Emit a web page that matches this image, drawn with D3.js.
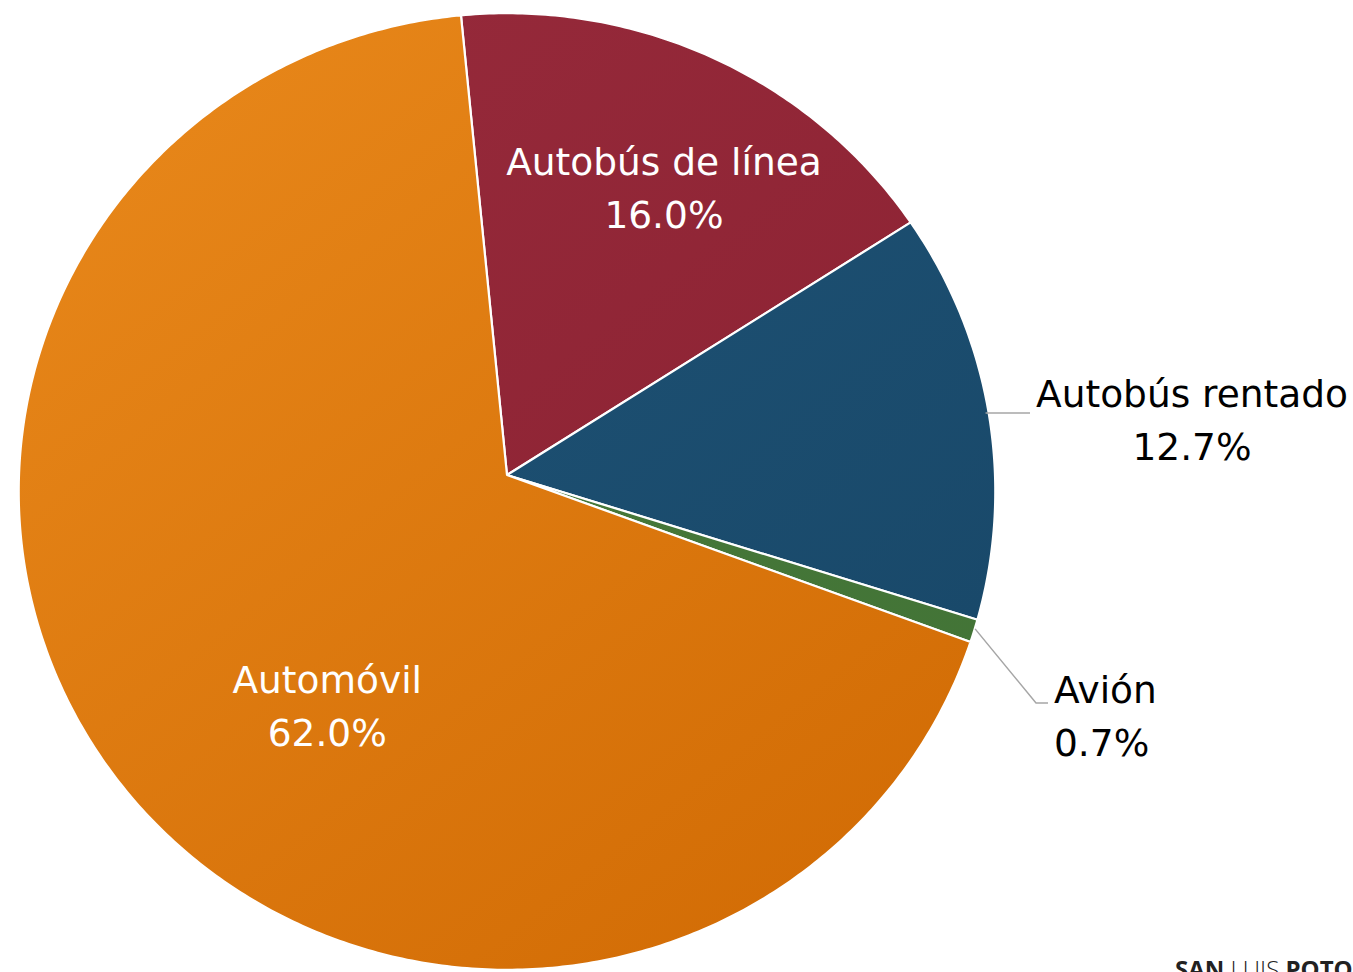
<!DOCTYPE html>
<html>
<head>
<meta charset="utf-8">
<script src="https://cdn.jsdelivr.net/npm/d3@7"></script>
<style>
    html, body { margin: 0; padding: 0; background: #fff; overflow: hidden; }
    svg { display: block; }
</style>
</head>
<body>
<svg id="chart" width="1353" height="972"></svg>
<script>
(function() {
    'use strict';

    // Data (shares don't add to 100, the pie normalises them)
    const categories = ['Autobús de línea', 'Autobús rentado', 'Avión', 'Automóvil'];
    const shares = [16.0, 12.7, 0.7, 62.0];
    const shareLabels = ['16.0%', '12.7%', '0.7%', '62.0%'];

    // Configuration
    const CONFIG = {
        center: { x: 507, y: 475 },
        radius: 488,
        tilt: 0.979,        // vertical squash of the slightly tilted disc
        persp: 0.0345,      // perspective: far (top) side looks a bit smaller
        startAngle: -5.6 * Math.PI / 180,
        font: '"DejaVu Sans", Verdana, sans-serif',
        fontSize: 37.5,
        lineH: 53,
        colors: [
            ['#982b3c', '#8a2131'],
            ['#205679', '#184768'],
            ['#4a7d3c', '#427336'],
            ['#ea8a1c', '#d26c05']
        ]
    };

    // project a point of the unit disc (angle clockwise from 12 o'clock, radius 0..1)
    function project(a, r) {
        const u = Math.sin(a) * r;
        const v = -Math.cos(a) * r;
        const w = 1 - CONFIG.persp * v;
        return [
            CONFIG.center.x + CONFIG.radius * u / w,
            CONFIG.center.y + CONFIG.radius * CONFIG.tilt * v / w
        ];
    }

    function slicePath(d) {
        const pts = [project(0, 0)];
        const steps = Math.max(2, Math.ceil((d.endAngle - d.startAngle) / 0.01));
        for (let i = 0; i <= steps; i++) {
            const a = d.startAngle + (d.endAngle - d.startAngle) * i / steps;
            pts.push(project(a, 1));
        }
        return d3.line()(pts) + 'Z';
    }

    const svg = d3.select('#chart');
    const defs = svg.append('defs');

    CONFIG.colors.forEach((c, i) => {
        const grad = defs.append('linearGradient')
            .attr('id', 'grad' + i)
            .attr('gradientUnits', 'userSpaceOnUse')
            .attr('x1', CONFIG.center.x - CONFIG.radius)
            .attr('y1', CONFIG.center.y - CONFIG.radius)
            .attr('x2', CONFIG.center.x + CONFIG.radius * 0.6)
            .attr('y2', CONFIG.center.y + CONFIG.radius);
        grad.append('stop').attr('offset', '0%').attr('stop-color', c[0]);
        grad.append('stop').attr('offset', '100%').attr('stop-color', c[1]);
    });

    const data = categories.map((name, i) => ({ name, value: shares[i], label: shareLabels[i], idx: i }));

    const pie = d3.pie()
        .value(d => d.value)
        .sort(null)
        .startAngle(CONFIG.startAngle)
        .endAngle(CONFIG.startAngle + 2 * Math.PI);

    const arcs = pie(data);

    svg.append('g').attr('class', 'slices')
        .selectAll('path')
        .data(arcs)
        .join('path')
        .attr('d', slicePath)
        .attr('fill', d => `url(#grad${d.data.idx})`)
        .attr('stroke', '#fff')
        .attr('stroke-width', 2.2)
        .attr('stroke-linejoin', 'round');

    // Label placement: inside labels at a radius/angle offset, outside ones beside the pie
    const labelPos = {
        'Autobús de línea': { inside: true, r: 0.695, dAngle: 0.04 },
        'Automóvil': { inside: true, r: 0.598, dAngle: -0.262 },
        'Autobús rentado': { inside: false, anchor: 'middle', dx: 1192, dy: 407, leadX: 1030 },
        'Avión': { inside: false, anchor: 'start', dx: 1054, dy: 703, leadX: 1048 }
    };

    const labels = svg.append('g').attr('class', 'labels');

    arcs.forEach(d => {
        const p = labelPos[d.data.name];
        const mid = (d.startAngle + d.endAngle) / 2;
        let x, y, fill;

        if (p.inside) {
            const c = project(mid + p.dAngle, p.r);
            x = c[0];
            y = c[1] - CONFIG.lineH / 2 + 13;
            fill = '#fff';
        } else {
            x = p.dx;
            y = p.dy;
            fill = '#000';

            // leader line from the slice edge
            const edge = project(mid, 1.0);
            let pts;
            if (p.anchor === 'start') {
                pts = [[edge[0] + 1, edge[1] - 2], [p.leadX - 12, y], [p.leadX, y]];
            } else {
                pts = [[edge[0] - 3, y + 6], [p.leadX, y + 6]];
            }
            labels.append('path')
                .attr('d', d3.line()(pts))
                .attr('fill', 'none')
                .attr('stroke', '#a6a6a6')
                .attr('stroke-width', 1.5);
        }

        const t = labels.append('text')
            .attr('text-anchor', p.inside ? 'middle' : p.anchor)
            .attr('font-family', CONFIG.font)
            .attr('font-size', CONFIG.fontSize)
            .attr('fill', fill);

        t.append('tspan').attr('x', x).attr('y', y).text(d.data.name);
        t.append('tspan').attr('x', x).attr('y', y + CONFIG.lineH).text(d.data.label);
    });

    // Footer (cut off by the page edge like in the source)
    const foot = svg.append('text')
        .attr('x', 1175)
        .attr('y', 978)
        .attr('font-family', '"Open Sans", "DejaVu Sans", sans-serif')
        .attr('font-size', 24)
        .attr('fill', '#222');
    foot.append('tspan').attr('font-weight', 700).text('SAN ');
    foot.append('tspan').attr('font-weight', 300).text('LUIS ');
    foot.append('tspan').attr('font-weight', 700).text('POTOSÍ');
})();
</script>
</body>
</html>
